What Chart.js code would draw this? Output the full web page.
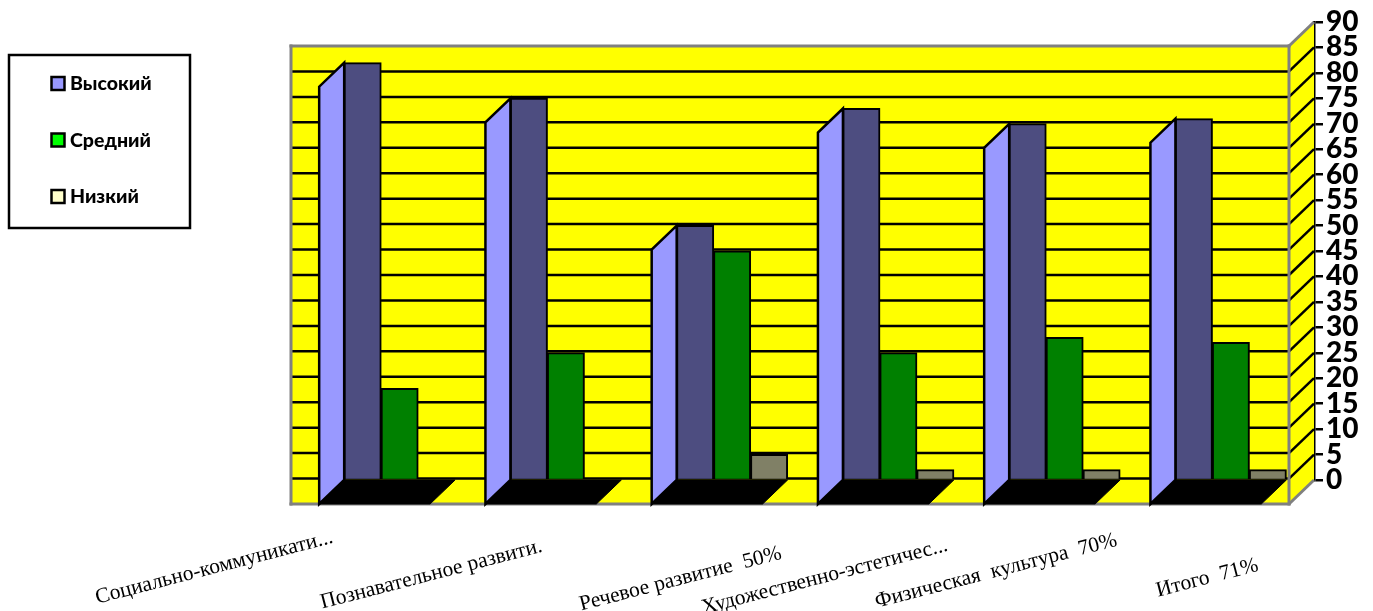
<!DOCTYPE html>
<html>
<head>
<meta charset="utf-8">
<title>Chart</title>
<script src="https://cdn.jsdelivr.net/npm/chart.js@4"></script>
<style>
html, body { margin: 0; padding: 0; background: #fff; }
canvas { display: block; }
</style>
</head>
<body>
<canvas id="chart" width="1373" height="611"></canvas>
<script>
var categories = ['Социально-коммуникати...', 'Познавательное развити.', 'Речевое развитие  50%', 'Художественно-эстетичес...', 'Физическая  культура  70%', 'Итого  71%'];
var high = [82, 75, 50, 73, 70, 71];
var middle = [18, 25, 45, 25, 28, 27];
var low = [0, 0, 5, 2, 2, 2];
var seriesNames = ['Высокий', 'Средний', 'Низкий'];

var sideColors = ['#9999ff', '#00ff00', '#ffffcc'];
var faceColors = ['#4d4d80', '#008000', '#808066'];

// how far the front edge of the 3D box sits from the plane of the bars
var depthX = -25;
var depthY = 24;
// end of each slanted label, measured from the middle of its category
var labelShiftX = [-67, -24, 49, 49, 52, 27];
var labelShiftY = [57, 66, 73, 65, 60, 85];

function poly(ctx, pts, fill, stroke, width) {
    ctx.beginPath();
    ctx.moveTo(pts[0][0], pts[0][1]);
    for (var i = 1; i < pts.length; i++) ctx.lineTo(pts[i][0], pts[i][1]);
    ctx.closePath();
    if (fill) { ctx.fillStyle = fill; ctx.fill(); }
    if (stroke) { ctx.strokeStyle = stroke; ctx.lineWidth = width; ctx.stroke(); }
}

function line(ctx, x1, y1, x2, y2, color, width) {
    ctx.beginPath();
    ctx.moveTo(x1, y1);
    ctx.lineTo(x2, y2);
    ctx.strokeStyle = color;
    ctx.lineWidth = width;
    ctx.stroke();
}

var box3d = {
    id: 'box3d',
    beforeDatasetsDraw: function (chart) {
        var ctx = chart.ctx, a = chart.chartArea, y = chart.scales.y;
        var left = a.left + depthX - 0.5, right = a.right + depthX;
        var top = y.getPixelForValue(90), bottom = y.getPixelForValue(0);
        ctx.save();
        // front panel and side wall
        poly(ctx, [[left, top + depthY], [right, top + depthY], [right, bottom + depthY], [left, bottom + depthY]], '#ffff00');
        poly(ctx, [[right, top + depthY], [a.right, top], [a.right, bottom], [right, bottom + depthY]], '#ffff00');
        // grid lines follow the y scale
        y.ticks.forEach(function (t) {
            var py = y.getPixelForValue(t.value);
            if (t.value === 0 || t.value === 90) return;
            line(ctx, left, py + depthY, right, py + depthY, '#000', 2.5);
            line(ctx, right, py + depthY, a.right, py, '#000', 2.5);
        });
        ctx.lineCap = 'square';
        line(ctx, left, top + depthY, right, top + depthY, '#808080', 3);
        line(ctx, left, top + depthY, left, bottom + depthY, '#808080', 3);
        line(ctx, left, bottom + depthY, right, bottom + depthY, '#808080', 3);
        line(ctx, right, top + depthY, right, bottom + depthY, '#808080', 3);
        ctx.lineCap = 'butt';
        line(ctx, right, top + depthY, a.right, top, '#808080', 3);
        line(ctx, right, bottom + depthY, a.right, bottom, '#808080', 3);

        // left side of each first bar
        chart.getDatasetMeta(0).data.forEach(function (bar) {
            var l = bar.x - bar.width / 2;
            poly(ctx, [[l, bar.y], [l + depthX, bar.y + depthY], [l + depthX, bottom + depthY], [l, bottom]], '#9999ff', '#000', 2.5);
        });
        ctx.restore();
    },
    afterDatasetsDraw: function (chart) {
        var ctx = chart.ctx, y = chart.scales.y, bottom = y.getPixelForValue(0);
        var first = chart.getDatasetMeta(0).data, last = chart.getDatasetMeta(2).data;
        ctx.save();
        // black floor under each group
        first.forEach(function (bar, i) {
            var l = bar.x - bar.width / 2, r = last[i].x + last[i].width / 2;
            poly(ctx, [[l, bottom], [r, bottom], [r + depthX, bottom + depthY], [l + depthX, bottom + depthY]], '#000', '#000', 1);
        });
        ctx.restore();
    },
    afterDraw: function (chart) {
        var ctx = chart.ctx, x = chart.scales.x, bottom = chart.chartArea.bottom;
        ctx.save();
        // slanted category labels
        ctx.font = '21.5px "Liberation Serif"';
        ctx.fillStyle = '#000';
        ctx.textAlign = 'right';
        ctx.textBaseline = 'middle';
        categories.forEach(function (name, i) {
            ctx.save();
            ctx.translate(x.getPixelForValue(i) + labelShiftX[i], bottom + labelShiftY[i]);
            ctx.rotate(-14.5 * Math.PI / 180);
            ctx.fillText(name, 0, 0);
            ctx.restore();
        });
        // legend box
        ctx.fillStyle = '#fff';
        ctx.fillRect(9, 55, 181, 173);
        ctx.strokeStyle = '#000';
        ctx.lineWidth = 2.5;
        ctx.strokeRect(9, 55, 181, 173);
        ctx.font = '900 19.5px Lato, "Open Sans"';
        ctx.textAlign = 'left';
        seriesNames.forEach(function (name, i) {
            var cy = 84 + i * 56.5;
            ctx.fillStyle = sideColors[i];
            ctx.fillRect(51.5, cy - 7, 13, 13);
            ctx.strokeRect(51.5, cy - 7, 13, 13);
            ctx.fillStyle = '#000';
            ctx.fillText(name, 70, cy);
        });
        ctx.restore();
    }
};

function series(i, values) {
    return { label: seriesNames[i], data: values, backgroundColor: faceColors[i], borderColor: '#000', borderWidth: 2, inflateAmount: 0.5, categoryPercentage: 0.667, barPercentage: 1 };
}

new Chart(document.getElementById('chart'), {
    type: 'bar',
    data: {
        labels: categories,
        datasets: [series(0, high), series(1, middle), series(2, low)]
    },
    options: {
        responsive: false,
        animation: false,
        layout: { padding: { left: 316.5, top: 22, right: 0, bottom: 131 } },
        plugins: { legend: { display: false }, tooltip: { enabled: false } },
        scales: {
            x: {
                afterFit: function (scale) { scale.height = 0; },
                grid: { display: false },
                border: { display: false },
                ticks: { display: false }
            },
            y: {
                position: 'right',
                min: 0,
                max: 90,
                afterFit: function (scale) { scale.width = 59; },
                grid: { drawOnChartArea: false, color: '#000', lineWidth: 2.5, tickLength: 9 },
                border: { display: true, color: '#000', width: 2.5 },
                ticks: {
                    stepSize: 5,
                    autoSkip: false,
                    color: '#000',
                    padding: 3,
                    font: { family: 'Lato, "Open Sans"', weight: '900', size: 28 }
                }
            }
        }
    },
    plugins: [box3d]
});
</script>
</body>
</html>
